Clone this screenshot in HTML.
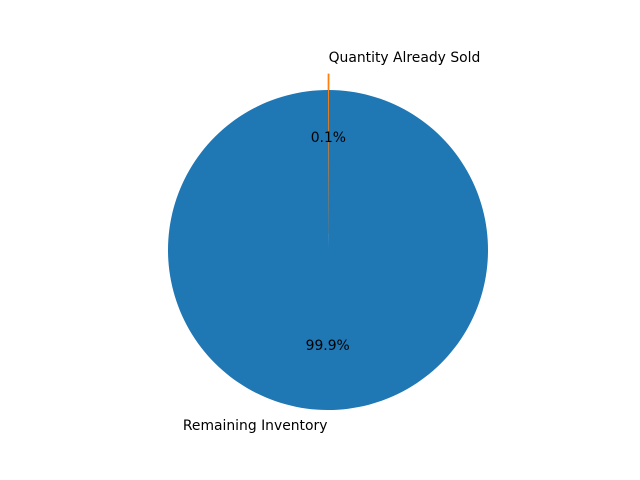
<!DOCTYPE html>
<html><head><meta charset="utf-8"><style>body{margin:0;background:#fff}svg{display:block}text{font-family:"DejaVu Sans","Liberation Sans",sans-serif;font-size:13.9px;fill:#000}</style></head>
<body>
<svg id="chart" width="640" height="480" viewBox="0 0 640 480"><g id="slices"></g><g id="labels"></g></svg>
<script>
const labels = ["Quantity Already Sold", "Remaining Inventory"];
const values = [1, 999];
const explode = [0.1, 0];
const colors = ["#ff7f0e", "#1f77b4"];
const NS = "http://www.w3.org/2000/svg";
const gS = document.getElementById("slices");
const gL = document.getElementById("labels");
const cx = 328, cy = 250, r = 160;
const total = values.reduce((a, b) => a + b, 0);
let ang = 90;
values.forEach((v, i) => {
  const sweep = v / total * 360;
  const a0 = ang, a1 = ang - sweep, mid = (a0 + a1) / 2 * Math.PI / 180;
  const ox = cx + explode[i] * r * Math.cos(mid), oy = cy - explode[i] * r * Math.sin(mid);
  const p = (a) => [ox + r * Math.cos(a * Math.PI / 180), oy - r * Math.sin(a * Math.PI / 180)];
  const [x0, y0] = p(a0), [x1, y1] = p(a1);
  const path = document.createElementNS(NS, "path");
  path.setAttribute("d", `M${ox},${oy} L${x0},${y0} A${r},${r} 0 ${sweep > 180 ? 1 : 0} 1 ${x1},${y1} Z`);
  path.setAttribute("fill", colors[i]);
  if (sweep < 2) { path.setAttribute("stroke", colors[i]); path.setAttribute("stroke-width", "0.8"); }
  
  
  gS.appendChild(path);
  const lx = ox + 1.1 * r * Math.cos(mid), ly = oy - 1.1 * r * Math.sin(mid);
  const t = document.createElementNS(NS, "text");
  t.setAttribute("x", lx); t.setAttribute("y", ly);
  t.setAttribute("text-anchor", Math.cos(mid) > 0 ? "start" : "end");
  t.setAttribute("dominant-baseline", "central");
  t.textContent = labels[i];
  
  
  gL.appendChild(t);
  const px = ox + 0.6 * r * Math.cos(mid), py = oy - 0.6 * r * Math.sin(mid);
  const pt = document.createElementNS(NS, "text");
  pt.setAttribute("x", px); pt.setAttribute("y", py);
  pt.setAttribute("text-anchor", "middle");
  pt.setAttribute("dominant-baseline", "central");
  pt.textContent = (v / total * 100).toFixed(1) + "%";
  
  
  gL.appendChild(pt);
  ang = a1;
});
</script>
</body></html>
